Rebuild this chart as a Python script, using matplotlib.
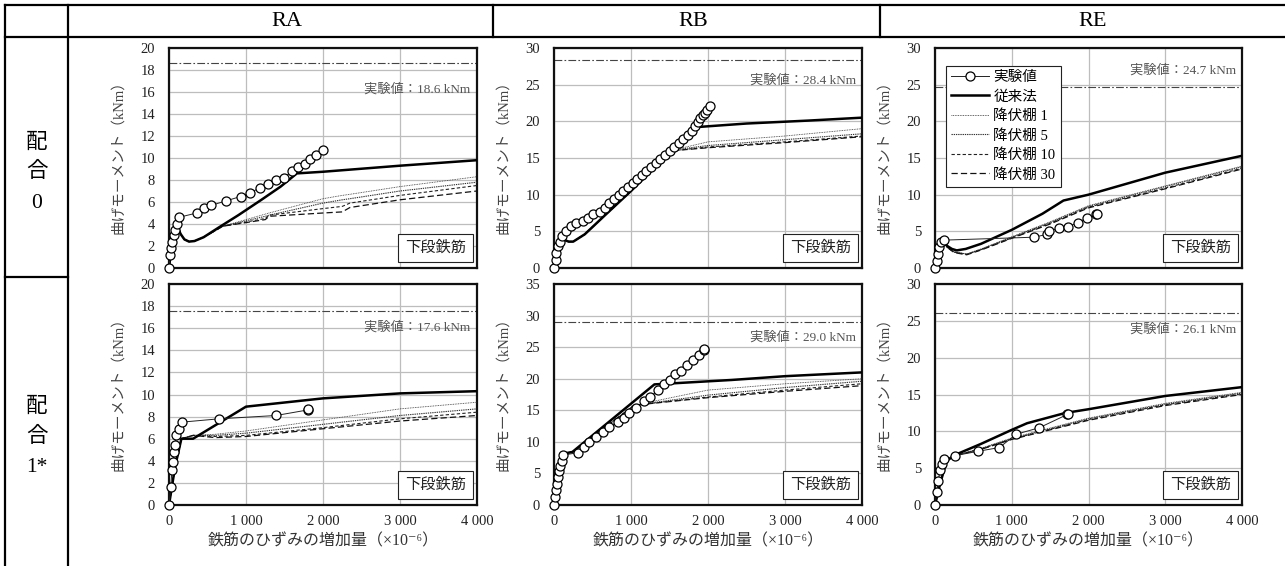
import matplotlib
matplotlib.use('Agg')
import matplotlib.pyplot as plt
from matplotlib.lines import Line2D

plt.rcParams['font.family'] = ['Liberation Serif', 'Noto Sans CJK JP', 'DejaVu Serif']

# ---- data ----
columns = ['RA', 'RB', 'RE']
rows = [['配', '合', '0'], ['配', '合', '1*']]
x_ticks = [0, 1000, 2000, 3000, 4000]
x_tick_labels = ['0', '1 000', '2 000', '3 000', '4 000']
legend_labels = ['実験値', '従来法', '降伏棚 1', '降伏棚 5', '降伏棚 10', '降伏棚 30']

# experimental ultimate moment per panel (kNm)
exp_max = {'ra0': 18.6, 'rb0': 28.4, 're0': 24.7, 'ra1': 17.6, 'rb1': 29.0, 're1': 26.1}
y_max = {'ra0': 20, 'rb0': 30, 're0': 30, 'ra1': 20, 'rb1': 35, 're1': 30}
y_step = {'ra0': 2, 'rb0': 5, 're0': 5, 'ra1': 2, 'rb1': 5, 're1': 5}

# RA, mix 0
ra0_exp_x = [0, 15, 30, 45, 60, 80, 100, 125, 360, 450, 550, 740, 930, 1050, 1180, 1280, 1390, 1490, 1600, 1680, 1760, 1830, 1910, 2000]
ra0_exp_y = [0, 1.2, 1.8, 2.4, 3.0, 3.5, 4.0, 4.6, 5.0, 5.45, 5.7, 6.1, 6.5, 6.8, 7.3, 7.6, 8.0, 8.2, 8.8, 9.2, 9.5, 9.9, 10.3, 10.7]
ra0_conv_x = [0, 40, 80, 110, 150, 200, 260, 330, 450, 650, 900, 1200, 1450, 1660, 2000, 3000, 4000]
ra0_conv_y = [0, 2.4, 3.5, 3.8, 3.1, 2.6, 2.4, 2.45, 2.8, 3.7, 4.8, 6.2, 7.4, 8.6, 8.75, 9.3, 9.8]
ra0_ys_x = [0, 40, 80, 110, 150, 200, 260, 330, 450, 700, 1250, 1300, 2000, 2250, 2350, 3000, 4000]
ra0_ys1_y = [0, 2.4, 3.5, 3.8, 3.1, 2.6, 2.4, 2.45, 2.8, 3.8, 4.9, 5.0, 6.3, 6.6, 6.7, 7.4, 8.3]
ra0_ys5_y = [0, 2.4, 3.5, 3.8, 3.1, 2.6, 2.4, 2.45, 2.8, 3.8, 4.7, 4.8, 5.9, 6.2, 6.3, 7.0, 7.8]
ra0_ys10_y = [0, 2.4, 3.5, 3.8, 3.1, 2.6, 2.4, 2.45, 2.8, 3.8, 4.5, 4.8, 5.4, 5.6, 5.9, 6.6, 7.5]
ra0_ys30_y = [0, 2.4, 3.5, 3.8, 3.1, 2.6, 2.4, 2.45, 2.8, 3.8, 4.4, 4.7, 5.0, 5.1, 5.5, 6.2, 7.0]

# RB, mix 0
rb0_exp_x = [0, 20, 30, 50, 75, 110, 160, 225, 290, 380, 445, 510, 600, 660, 720, 780, 840, 900, 960, 1020, 1080, 1140, 1200,
             1260, 1320, 1380, 1440, 1500, 1560, 1620, 1680, 1740, 1790, 1830, 1870, 1900, 1930, 1960, 1990, 2030]
rb0_exp_y = [0, 1.1, 2.0, 3.0, 3.6, 4.3, 5.0, 5.7, 6.1, 6.4, 6.8, 7.3, 7.7, 8.2, 8.8, 9.4, 9.9, 10.5, 11.0, 11.6, 12.1, 12.7, 13.2,
             13.8, 14.3, 14.9, 15.4, 16.0, 16.5, 17.1, 17.6, 18.2, 18.7, 19.3, 19.9, 20.4, 20.8, 21.2, 21.6, 22.1]
rb0_conv_x = [0, 50, 96, 140, 190, 250, 400, 683, 1000, 1291, 1600, 1835, 2500, 3300, 4000]
rb0_conv_y = [0, 2.5, 4.1, 3.8, 3.6, 3.6, 4.6, 7.4, 10.5, 13.5, 16.5, 19.2, 19.7, 20.1, 20.5]
rb0_ys_x = [0, 50, 96, 140, 190, 250, 400, 683, 1000, 1291, 1550, 2000, 3000, 4000]
rb0_ys1_y = [0, 2.5, 4.1, 3.8, 3.6, 3.6, 4.6, 7.4, 10.5, 13.5, 16.1, 17.2, 18.0, 19.0]
rb0_ys5_y = [0, 2.5, 4.1, 3.8, 3.6, 3.6, 4.6, 7.4, 10.5, 13.5, 16.1, 16.7, 17.5, 18.3]
rb0_ys10_y = [0, 2.5, 4.1, 3.8, 3.6, 3.6, 4.6, 7.4, 10.5, 13.5, 16.0, 16.5, 17.2, 18.0]
rb0_ys30_y = [0, 2.5, 4.1, 3.8, 3.6, 3.6, 4.6, 7.4, 10.5, 13.5, 16.0, 16.4, 17.1, 17.9]

# RE, mix 0
re0_exp_x = [0, 22, 35, 52, 74, 117, 1290, 1465, 1490, 1620, 1730, 1860, 1980, 2095, 2105]
re0_exp_y = [0, 1.0, 1.9, 2.8, 3.5, 3.8, 4.2, 4.6, 5.1, 5.4, 5.6, 6.2, 6.8, 7.3, 7.4]
re0_conv_x = [0, 50, 109, 160, 220, 283, 400, 600, 1000, 1400, 1674, 2000, 3000, 4000]
re0_conv_y = [0, 2.0, 3.7, 3.0, 2.6, 2.4, 2.6, 3.3, 5.2, 7.4, 9.2, 10.0, 13.0, 15.3]
re0_ys_x = [0, 50, 109, 160, 250, 413, 600, 1000, 1500, 2000, 3000, 4000]
re0_ys1_y = [0, 2.0, 3.7, 2.8, 2.2, 1.9, 2.6, 4.25, 6.3, 8.5, 11.2, 13.9]
re0_ys5_y = [0, 2.0, 3.7, 2.8, 2.2, 1.9, 2.55, 4.2, 6.2, 8.4, 11.1, 13.8]
re0_ys10_y = [0, 2.0, 3.7, 2.8, 2.15, 1.85, 2.5, 4.1, 6.1, 8.3, 10.9, 13.6]
re0_ys30_y = [0, 2.0, 3.7, 2.8, 2.1, 1.8, 2.45, 4.05, 6.0, 8.2, 10.8, 13.5]

# RA, mix 1*
ra1_exp_x = [0, 22, 39, 52, 65, 74, 96, 126, 170, 652, 1391, 1800, 1805]
ra1_exp_y = [0, 1.6, 3.2, 3.9, 4.8, 5.4, 6.3, 6.9, 7.5, 7.8, 8.1, 8.6, 8.7]
ra1_conv_x = [0, 80, 161, 313, 1000, 2000, 3000, 4000]
ra1_conv_y = [0, 3.5, 6.0, 6.0, 8.9, 9.65, 10.1, 10.3]
ra1_ys_x = [0, 80, 161, 313, 600, 1000, 2000, 3000, 4000]
ra1_ys1_y = [0, 3.5, 6.0, 6.3, 6.4, 6.7, 7.7, 8.7, 9.3]
ra1_ys5_y = [0, 3.5, 6.0, 6.3, 6.3, 6.5, 7.3, 8.1, 8.7]
ra1_ys10_y = [0, 3.5, 6.0, 6.3, 6.2, 6.3, 7.0, 7.8, 8.4]
ra1_ys30_y = [0, 3.5, 6.0, 6.3, 6.1, 6.2, 6.9, 7.6, 8.1]

# RB, mix 1*
rb1_exp_x = [0, 9, 20, 35, 50, 65, 80, 100, 122, 313, 391, 457, 543, 630, 717, 826, 904, 978, 1065, 1174, 1252, 1348,
             1435, 1500, 1565, 1652, 1730, 1804, 1883, 1943, 1950]
rb1_exp_y = [0, 1.3, 2.3, 3.4, 4.4, 5.4, 6.2, 7.0, 7.9, 8.3, 9.2, 9.9, 10.7, 11.6, 12.3, 13.2, 13.8, 14.6, 15.4, 16.4, 17.1, 18.2,
             19.1, 19.8, 20.7, 21.3, 22.1, 22.9, 23.8, 24.5, 24.7]
rb1_conv_x = [0, 80, 152, 239, 1304, 2304, 3000, 4000]
rb1_conv_y = [0, 4.2, 8.2, 8.4, 19.1, 19.8, 20.4, 21.0]
rb1_ys_x = [0, 80, 152, 239, 1043, 2000, 3000, 4000]
rb1_ys1_y = [0, 4.2, 8.2, 8.4, 15.8, 18.2, 19.2, 20.0]
rb1_ys5_y = [0, 4.2, 8.2, 8.4, 15.8, 17.4, 18.6, 19.6]
rb1_ys10_y = [0, 4.2, 8.2, 8.4, 15.8, 17.1, 18.2, 19.2]
rb1_ys30_y = [0, 4.2, 8.2, 8.4, 15.8, 17.0, 18.0, 18.9]

# RE, mix 1*
re1_exp_x = [0, 22, 43, 65, 96, 122, 261, 565, 839, 1057, 1361, 1726, 1730]
re1_exp_y = [0, 1.7, 3.3, 4.75, 5.6, 6.2, 6.7, 7.3, 7.8, 9.6, 10.5, 12.3, 12.4]
re1_conv_x = [0, 70, 152, 261, 600, 1000, 1200, 1700, 2000, 3000, 4000]
re1_conv_y = [0, 3.0, 6.0, 6.8, 8.3, 10.2, 11.1, 12.5, 13.0, 14.8, 16.0]
re1_ys_x = [0, 70, 152, 261, 600, 1000, 2000, 3000, 4000]
re1_ys1_y = [0, 3.0, 6.0, 6.7, 7.7, 9.1, 11.8, 13.8, 15.3]
re1_ys5_y = [0, 3.0, 6.0, 6.7, 7.65, 9.0, 11.7, 13.7, 15.2]
re1_ys10_y = [0, 3.0, 6.0, 6.7, 7.6, 8.95, 11.6, 13.6, 15.1]
re1_ys30_y = [0, 3.0, 6.0, 6.7, 7.55, 8.9, 11.5, 13.5, 15.0]

panels = {
    'ra0': (ra0_exp_x, ra0_exp_y, ra0_conv_x, ra0_conv_y, ra0_ys_x, [ra0_ys1_y, ra0_ys5_y, ra0_ys10_y, ra0_ys30_y]),
    'rb0': (rb0_exp_x, rb0_exp_y, rb0_conv_x, rb0_conv_y, rb0_ys_x, [rb0_ys1_y, rb0_ys5_y, rb0_ys10_y, rb0_ys30_y]),
    're0': (re0_exp_x, re0_exp_y, re0_conv_x, re0_conv_y, re0_ys_x, [re0_ys1_y, re0_ys5_y, re0_ys10_y, re0_ys30_y]),
    'ra1': (ra1_exp_x, ra1_exp_y, ra1_conv_x, ra1_conv_y, ra1_ys_x, [ra1_ys1_y, ra1_ys5_y, ra1_ys10_y, ra1_ys30_y]),
    'rb1': (rb1_exp_x, rb1_exp_y, rb1_conv_x, rb1_conv_y, rb1_ys_x, [rb1_ys1_y, rb1_ys5_y, rb1_ys10_y, rb1_ys30_y]),
    're1': (re1_exp_x, re1_exp_y, re1_conv_x, re1_conv_y, re1_ys_x, [re1_ys1_y, re1_ys5_y, re1_ys10_y, re1_ys30_y]),
}

# ---- layout (pixels) ----
W, H = 1285, 566
fig = plt.figure(figsize=(W / 100, H / 100), dpi=100)

col_lr = [(169, 477), (554, 862), (935, 1242)]
row_tb = [(48, 268), (284, 505)]
# offset of the "実験値" text from its dash-dot line, in points
text_dy = {'ra0': -19, 'rb0': -15, 're0': 11.5, 'ra1': -12, 'rb1': -11, 're1': -12}

ys_styles = [dict(ls=(0, (1, 1)), lw=0.6, color='#333333'),
             dict(ls=(0, (1.2, 0.8)), lw=0.8, color='#333333'),
             dict(ls=(0, (3, 2)), lw=0.8, color='#222222'),
             dict(ls=(0, (5, 2.5)), lw=0.9, color='#111111')]


def hline(x1, x2, y):
    fig.add_artist(Line2D([x1 / W, x2 / W], [1 - y / H, 1 - y / H], transform=fig.transFigure, color='k', lw=1.6))


def vline(x, y1, y2):
    fig.add_artist(Line2D([x / W, x / W], [1 - y1 / H, 1 - y2 / H], transform=fig.transFigure, color='k', lw=1.6))


hline(5, W, 5)
hline(5, W, 37)
hline(5, 68, 277)
vline(5, 5, H)
vline(68, 5, H)
vline(493, 5, 37)
vline(880, 5, 37)

for name, xc in zip(columns, [287, 693, 1093]):
    fig.text(xc / W, 1 - 21 / H, name, ha='center', va='center', fontsize=16)
for chars, ys in zip(rows, [[143, 172, 203], [407, 437, 467]]):
    for ch, yc in zip(chars, ys):
        fig.text(37 / W, 1 - yc / H, ch, ha='center', va='center', fontsize=15.5)

keys = [['ra0', 'rb0', 're0'], ['ra1', 'rb1', 're1']]
for r in range(2):
    for c in range(3):
        key = keys[r][c]
        l, rr = col_lr[c]
        t, b = row_tb[r]
        ax = fig.add_axes([l / W, 1 - b / H, (rr - l) / W, (b - t) / H])
        exp_x, exp_y, conv_x, conv_y, ys_x, ys_list = panels[key]

        ax.axhline(exp_max[key], color='#444444', lw=0.8, ls=(0, (7, 2, 1.5, 2)), zorder=2)
        handles = []
        for ys_y, st in zip(ys_list, ys_styles):
            h, = ax.plot(ys_x, ys_y, zorder=3, **st)
            handles.append(h)
        hc, = ax.plot(conv_x, conv_y, color='k', lw=1.8, zorder=4)
        he, = ax.plot(exp_x, exp_y, color='#222222', lw=0.7, marker='o', ms=6.5, mfc='white', mec='k', mew=0.9,
                      zorder=5, clip_on=False)

        ax.set_xlim(0, 4000)
        ax.set_ylim(0, y_max[key])
        ax.set_xticks(x_ticks)
        ax.set_yticks(range(0, y_max[key] + 1, y_step[key]))
        if r == 1:
            ax.set_xticklabels(x_tick_labels)
            ax.set_xlabel('鉄筋のひずみの増加量（×10⁻⁶）', fontsize=11.5, color='#333333')
            ax.xaxis.set_label_coords(0.5, -0.13)
        else:
            ax.set_xticklabels([])
        ax.tick_params(length=0, labelsize=10.5, colors='#222222')
        ax.tick_params(axis='y', pad=10)
        ax.tick_params(axis='x', pad=7)
        ax.grid(color='#bdbdbd', lw=0.9)
        ax.set_axisbelow(True)
        for sp in ax.spines.values():
            sp.set_linewidth(1.6)
            sp.set_color('#111111')
        ax.set_ylabel('曲げモーメント（kNm）', fontsize=10.5, color='#444444')
        ax.yaxis.set_label_coords(-0.142, 0.52)

        ax.annotate('実験値：%.1f kNm' % exp_max[key], xy=(1, exp_max[key]), xycoords=('axes fraction', 'data'),
                    xytext=(-4.5, text_dy[key]), textcoords='offset points', ha='right', va='center',
                    fontsize=9.5, color='#555555')
        ax.text(0.964, 0.059, '下段鉄筋', transform=ax.transAxes, ha='right', va='bottom', fontsize=11,
                color='#222222', zorder=6,
                bbox=dict(boxstyle='square,pad=0.45', fc='white', ec='#222222', lw=0.8))

        if key == 're0':
            leg = ax.legend([he, hc] + handles, legend_labels, loc='upper left', bbox_to_anchor=(0.036, 0.918),
                            borderaxespad=0, fontsize=10.5, frameon=True, fancybox=False, edgecolor='#222222',
                            framealpha=1, handlelength=2.6, handletextpad=0.3, labelspacing=0.4,
                            borderpad=0.35)
            leg.get_frame().set_linewidth(0.8)
            leg.set_zorder(7)

fig.savefig('out.png', dpi=100)
